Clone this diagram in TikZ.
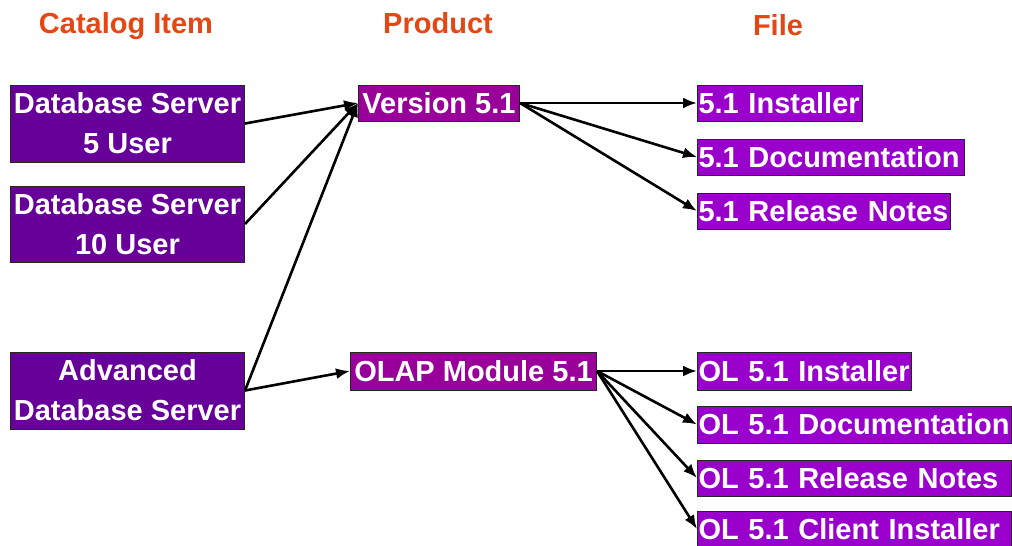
\documentclass[tikz,border=0pt]{standalone}
\usepackage{fontspec}
\setmainfont{Liberation Sans}
\usetikzlibrary{arrows.meta}

\definecolor{headred}{RGB}{230,70,20}
\definecolor{itempurple}{RGB}{102,0,153}
\definecolor{prodpurple}{RGB}{153,0,153}
\definecolor{filepurple}{RGB}{153,0,204}

\tikzset{
  box/.style={draw=black!85, line width=1pt, text=white, anchor=west, inner sep=1pt,
    font=\fontsize{29}{40}\selectfont\bfseries},
  itembox/.style={box, fill=itempurple, minimum width=234pt, minimum height=77pt, align=center},
  prodbox/.style={box, fill=prodpurple, minimum height=37pt},
  filebox/.style={box, fill=filepurple, minimum height=36pt, align=left},
  head/.style={text=headred, anchor=base, font=\fontsize{29}{34}\selectfont\bfseries},
  link/.style={line width=2.6pt, -{Latex[length=14pt,width=11pt]}}
}

\begin{document}
\begin{tikzpicture}[x=1pt,y=-1pt]
\useasboundingbox (0,0) rectangle (1012,546);

% column titles
\node[head] (hitem) at (126,33) {Catalog Item};
\node[head] (hprod) at (438,33) {Product};
\node[head] (hfile) at (778,35) {File};

% catalog items
\node[itembox] (ds5) at (10,123.5) {Database Server\\5 User};
\node[itembox, minimum height=76pt] (ds10) at (10,224) {Database Server\\10 User};
\node[itembox] (ads) at (10,390.5) {Advanced\\Database Server};

% products
\node[prodbox, minimum width=161pt, minimum height=36pt] (ver) at (358,103) {Version 5.1};
\node[prodbox, minimum width=246pt, minimum height=38pt] (olap) at (350,371) {OLAP Module 5.1};

% files of version 5.1
\node[filebox, text width=163pt] (inst) at (697,103) {5.1 Installer};
\node[filebox, text width=265pt] (doc) at (697,157) {5.1 Documentation};
\node[filebox, text width=251pt] (notes) at (697,211) {5.1 Release Notes};

% files of the olap module
\node[filebox, text width=212pt, minimum height=38pt] (olinst) at (697,371) {OL 5.1 Installer};
\node[filebox, text width=312pt, minimum height=37pt] (oldoc) at (697,424.5) {OL 5.1 Documentation};
\node[filebox, text width=312pt] (olnotes) at (697,478) {OL 5.1 Release Notes};
\node[filebox, text width=312pt] (olclient) at (697,529) {OL 5.1 Client Installer};

% item -> product
\draw[link] (ds5.east) -- (ver.west);
\draw[link] (ds10.east) -- (ver.west);
\draw[link] (ads.east) -- (ver.west);
\draw[link] (ads.east) -- (olap.west);

% product -> file
\draw[link] (ver.east) -- (inst.west);
\draw[link] (ver.east) -- (doc.west);
\draw[link] (ver.east) -- (notes.west);
\draw[link] (olap.east) -- (olinst.west);
\draw[link] (olap.east) -- (oldoc.west);
\draw[link] (olap.east) -- (olnotes.west);
\draw[link] (olap.east) -- (olclient.west);

\end{tikzpicture}
\end{document}
